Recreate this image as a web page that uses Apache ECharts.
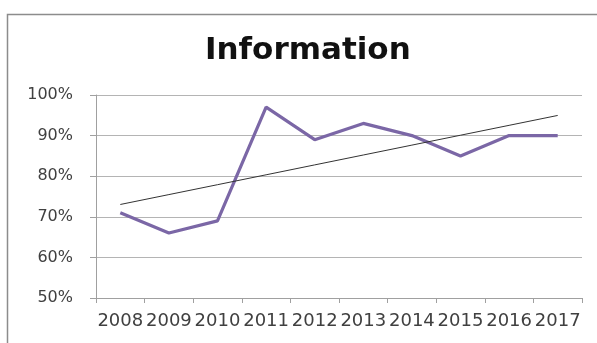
<!DOCTYPE html>
<html>
<head>
<meta charset="utf-8">
<script src="https://cdn.jsdelivr.net/npm/echarts@6/dist/echarts.min.js"></script>
<style>
  html, body { margin: 0; padding: 0; background: #fff; }
  #chart { width: 597px; height: 343px; }
</style>
</head>
<body>
<div id="chart"></div>
<script>
// Yearly share, in percent
const years = ['2008', '2009', '2010', '2011', '2012', '2013', '2014', '2015', '2016', '2017'];
const information = [71, 66, 69, 97, 89, 93, 90, 85, 90, 90];
const yTicks = [50, 60, 70, 80, 90, 100];

// Least-squares linear trend over the series
function linearTrend(values) {
  const n = values.length;
  let sx = 0, sy = 0, sxy = 0, sxx = 0;
  values.forEach((v, i) => { sx += i; sy += v; sxy += i * v; sxx += i * i; });
  const slope = (n * sxy - sx * sy) / (n * sxx - sx * sx);
  const intercept = (sy - slope * sx) / n;
  return values.map((_, i) => intercept + slope * i);
}
const trend = linearTrend(information);

const chart = echarts.init(document.getElementById('chart'), null, { renderer: 'canvas' });
chart.setOption({
  backgroundColor: '#fff',
  animation: false,
  graphic: [{
    type: 'rect',
    shape: { x: 7.5, y: 14.5, width: 600, height: 340 },
    style: { fill: 'none', stroke: '#8c8c8c', lineWidth: 1.5 },
    silent: true
  }],
  title: {
    text: 'Information',
    left: 205,
    top: 35,
    padding: 0,
    textStyle: { fontFamily: 'DejaVu Sans', fontWeight: 'bold', fontSize: 31, color: '#111' }
  },
  grid: { left: 96, right: 15, top: 95, bottom: 45 },
  xAxis: {
    type: 'category',
    data: years,
    boundaryGap: true,
    axisLine: { lineStyle: { color: '#a0a0a0', width: 1 } },
    axisTick: { show: true, length: 5, lineStyle: { color: '#a0a0a0' } },
    axisLabel: { color: '#404040', fontFamily: 'DejaVu Sans', fontSize: 18, margin: 14, interval: 0 }
  },
  yAxis: {
    type: 'value',
    min: yTicks[0],
    max: yTicks[yTicks.length - 1],
    interval: 10,
    axisLine: { show: true, lineStyle: { color: '#a0a0a0', width: 1 } },
    axisTick: { show: true, length: 6, lineStyle: { color: '#a0a0a0' } },
    splitLine: { lineStyle: { color: '#b4b4b4', width: 1 } },
    axisLabel: { color: '#404040', fontFamily: 'DejaVu Sans', fontSize: 16, margin: 23, formatter: '{value}%' }
  },
  series: [
    {
      name: 'Information',
      type: 'line',
      data: information,
      symbol: 'none',
      lineStyle: { color: '#7b67a6', width: 3.2 },
      z: 3
    },
    {
      name: 'Trend',
      type: 'line',
      data: trend,
      symbol: 'none',
      lineStyle: { color: '#333', width: 1 },
      z: 4
    }
  ]
});
</script>
</body>
</html>
